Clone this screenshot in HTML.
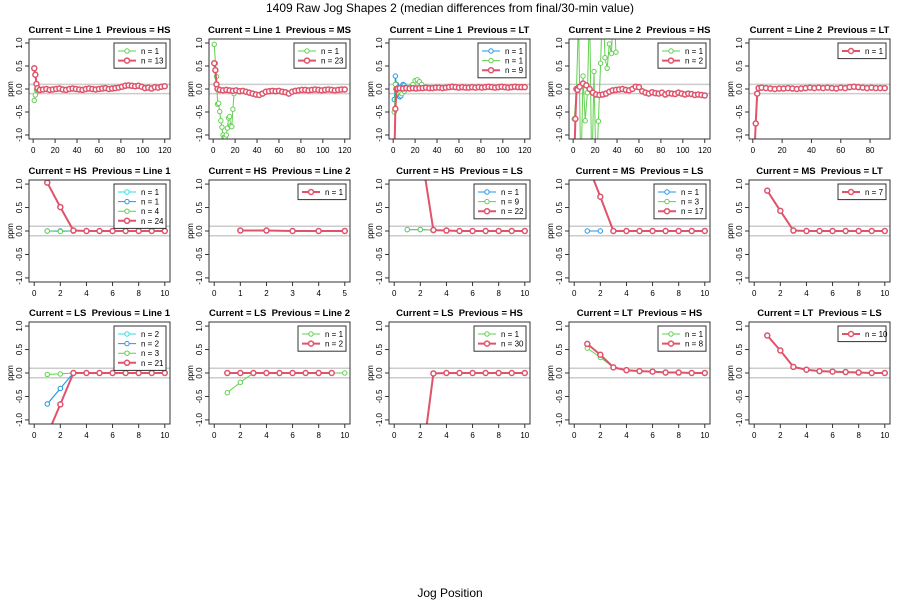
<!DOCTYPE html>
<html><head><meta charset="utf-8"><style>
body{margin:0;background:#fff}
svg{display:block;font-family:"Liberation Sans",Arial,sans-serif}
svg text{white-space:pre}
</style></head><body>
<svg id="chart" width="900" height="600" viewBox="0 0 900 600">
<text x="450" y="12" text-anchor="middle" font-size="12">1409 Raw Jog Shapes 2 (median differences from final/30-min value)</text>
<text x="450" y="597" text-anchor="middle" font-size="12">Jog Position</text>
</svg>
<script>
const RED="#DF536B",GREEN="#61D04F",BLUE="#2297E6",CYAN="#28E2E5";
const titles=["Current = Line 1  Previous = HS","Current = Line 1  Previous = MS","Current = Line 1  Previous = LT","Current = Line 2  Previous = HS","Current = Line 2  Previous = LT",
"Current = HS  Previous = Line 1","Current = HS  Previous = Line 2","Current = HS  Previous = LS","Current = MS  Previous = LS","Current = MS  Previous = LT",
"Current = LS  Previous = Line 1","Current = LS  Previous = Line 2","Current = LS  Previous = HS","Current = LT  Previous = HS","Current = LT  Previous = LS"];
const xlims=[[-3.8,124.8],[-3.8,124.8],[-3.8,124.8],[-3.8,124.8],[-2.6,93.6],
[-0.4,10.4],[-0.2,5.2],[-0.4,10.4],[-0.4,10.4],[-0.4,10.4],
[-0.4,10.4],[-0.4,10.4],[-0.4,10.4],[-0.4,10.4],[-0.4,10.4]];
const xticksLong=[0,20,40,60,80,100,120];
const xticks80=[0,20,40,60,80];
const xticks10=[0,2,4,6,8,10];
const xticks5=[0,1,2,3,4,5];
const yticks=[-1,-0.5,0,0.5,1];
const ytickLabels=["-1.0","-0.5","0.0","0.5","1.0"];
const xLong=[1,2,3,4,6,9,12,15,18,21,24,27,30,33,36,39,42,45,48,51,54,57,60,63,66,69,72,75,78,81,84,87,90,93,96,99,102,105,108,111,114,117,120];
const x90=[1,2,3,4,6,9,12,15,18,21,24,27,30,33,36,39,42,45,48,51,54,57,60,63,66,69,72,75,78,81,84,87,90];
const x10=[1,2,3,4,5,6,7,8,9,10];
const x3=[1,2,3];
const p1GreenX=[1,2,3,4,5,6];
const p1GreenY=[-0.25,-0.13,-0.02,-0.03,-0.04,-0.04];
const p1RedY=[0.45,0.31,0.11,0.02,-0.02,-0.01,0,-0.02,-0.01,0,0.01,-0.01,-0.02,0,0.01,0,-0.01,-0.02,0,0.01,0,-0.01,0,0.01,0.02,0,0.01,0.02,0.03,0.05,0.07,0.08,0.07,0.06,0.07,0.05,0.02,0.03,0.01,0.04,0.03,0.05,0.06];
const p2GreenX=[1,2,3,4,5,6,7,8,9,10,11,12,13,14,15,16,17,18,19];
const p2GreenY=[0.97,0.56,0.27,-0.33,-0.31,-0.49,-0.69,-0.83,-1.0,-1.05,-1.05,-1.0,-0.85,-0.63,-0.6,-0.8,-0.82,-0.44,-0.1];
const p2RedY=[0.56,0.41,0.1,0.0,-0.02,-0.03,-0.02,-0.03,-0.04,-0.03,-0.05,-0.04,-0.06,-0.08,-0.1,-0.12,-0.13,-0.1,-0.06,-0.05,-0.04,-0.05,-0.04,-0.06,-0.07,-0.1,-0.06,-0.04,-0.03,-0.02,-0.02,-0.03,-0.02,-0.01,-0.02,-0.03,-0.02,-0.01,-0.02,-0.03,-0.02,-0.01,-0.01];
const p3BlueX=[1,2,3,4,5,6,7,8,9,10,11,12];
const p3BlueY=[-0.23,0.28,0.1,-0.1,-0.15,-0.17,-0.15,-0.05,0.1,0.08,0.04,0.0];
const p3GreenX=[1,2,3,4,6,8,10,12,14,16,18,20,22,24,26];
const p3GreenY=[-0.5,0.1,0.0,-0.08,-0.05,-0.1,-0.05,0,0.02,0.05,0.1,0.18,0.2,0.16,0.1];
const p3RedY=[-1.5,-0.43,0.0,0.01,0.02,0.01,0.02,0.01,0.02,0.01,0.02,0.02,0.03,0.02,0.02,0.03,0.03,0.02,0.03,0.04,0.05,0.04,0.03,0.04,0.03,0.03,0.04,0.03,0.04,0.03,0.04,0.05,0.04,0.03,0.04,0.05,0.04,0.03,0.04,0.05,0.04,0.04,0.04];
const p4GreenX=[1,3,5,7,9,11,13,15,17,19,21,23,25,27,29,31,33,35,37,39];
const p4GreenY=[-0.65,0.0,1.6,-2.0,0.28,-0.69,-0.08,1.8,-2.0,0.38,-2.0,-0.7,0.56,2.0,0.68,0.45,0.98,0.77,2.0,0.8];
const p4RedY=[-1.5,-0.65,0.0,-0.02,0.05,0.12,0.08,0.0,-0.08,-0.12,-0.13,-0.12,-0.1,-0.06,-0.03,-0.02,-0.01,0,-0.02,-0.03,0.0,0.05,0.04,-0.05,-0.08,-0.1,-0.07,-0.09,-0.1,-0.08,-0.12,-0.09,-0.1,-0.11,-0.08,-0.1,-0.12,-0.1,-0.11,-0.13,-0.12,-0.13,-0.14];
const p5RedY=[-1.5,-0.75,-0.1,0.02,0.03,0.02,0.01,0.0,0.01,0.01,0.02,0.01,0.0,0.01,0.02,0.03,0.02,0.03,0.02,0.03,0.02,0.01,0.03,0.02,0.04,0.05,0.04,0.03,0.02,0.03,0.02,0.02,0.02];
const p6CyanY=[0,0,0], p6BlueY=[0,0,0], p6GreenY=[0,-0.01,0];
const p6RedY=[1.03,0.51,0.01,0,0,0,0,0,0,0];
const p7RedX=[1,2,3,4,5];
const p7RedY=[0.01,0.01,0.0,0.0,0.0];
const p8BlueY=[0.03,0.03,0.02], p8GreenY=[0.03,0.03,0.02];
const p8RedY=[3.6,1.8,0.02,0.01,0,0,0,0,0,0];
const p9BlueX=[1,2], p9BlueY=[0,0];
const p9RedY=[1.44,0.73,0.0,0,0,0,0,0,0,0];
const p10RedY=[0.86,0.43,0.01,0,0,0,0,0,0,0];
const p11CyanY=[-0.66,-0.33,0], p11BlueY=[-0.66,-0.33,0], p11GreenY=[-0.03,-0.02,0];
const p11RedY=[-1.32,-0.67,0,0,0,0,0,0,0,0];
const p12GreenY=[-0.42,-0.2,0,0,0,0,0,0,0,0];
const p12RedX=[1,2,3,4,5,6,7,8,9];
const p12RedY=[0,0,0,0,0,0,0,0,0];
const p13RedX=[2,3,4,5,6,7,8,9,10];
const p13RedY=[-2.16,-0.01,0,0,0,0,0,0,0];
const p14GreenY=[0.53,0.33,0.12];
const p14RedY=[0.62,0.39,0.12,0.06,0.04,0.03,0.01,0.01,0,0];
const p15RedY=[0.8,0.48,0.13,0.07,0.04,0.03,0.02,0.01,0,0];

function S(c,x,y,thick){return {c,x,y,thick};}
const panels=[
 {s:[S(GREEN,p1GreenX,p1GreenY),S(RED,xLong,p1RedY,1)],leg:[[GREEN,"n = 1",0],[RED,"n = 13",1]],xt:xticksLong},
 {s:[S(GREEN,p2GreenX,p2GreenY),S(RED,xLong,p2RedY,1)],leg:[[GREEN,"n = 1",0],[RED,"n = 23",1]],xt:xticksLong},
 {s:[S(BLUE,p3BlueX,p3BlueY),S(GREEN,p3GreenX,p3GreenY),S(RED,xLong,p3RedY,1)],leg:[[BLUE,"n = 1",0],[GREEN,"n = 1",0],[RED,"n = 9",1]],xt:xticksLong},
 {s:[S(GREEN,p4GreenX,p4GreenY),S(RED,xLong,p4RedY,1)],leg:[[GREEN,"n = 1",0],[RED,"n = 2",1]],xt:xticksLong},
 {s:[S(RED,x90,p5RedY,1)],leg:[[RED,"n = 1",1]],xt:xticks80},
 {s:[S(CYAN,x3,p6CyanY),S(BLUE,x3,p6BlueY),S(GREEN,x3,p6GreenY),S(RED,x10,p6RedY,1)],leg:[[CYAN,"n = 1",0],[BLUE,"n = 1",0],[GREEN,"n = 4",0],[RED,"n = 24",1]],xt:xticks10},
 {s:[S(RED,p7RedX,p7RedY,1)],leg:[[RED,"n = 1",1]],xt:xticks5},
 {s:[S(BLUE,x3,p8BlueY),S(GREEN,x3,p8GreenY),S(RED,x10,p8RedY,1)],leg:[[BLUE,"n = 1",0],[GREEN,"n = 9",0],[RED,"n = 22",1]],xt:xticks10},
 {s:[S(BLUE,p9BlueX,p9BlueY),S(RED,x10,p9RedY,1)],leg:[[BLUE,"n = 1",0],[GREEN,"n = 3",0],[RED,"n = 17",1]],xt:xticks10},
 {s:[S(RED,x10,p10RedY,1)],leg:[[RED,"n = 7",1]],xt:xticks10},
 {s:[S(CYAN,x3,p11CyanY),S(BLUE,x3,p11BlueY),S(GREEN,x3,p11GreenY),S(RED,x10,p11RedY,1)],leg:[[CYAN,"n = 2",0],[BLUE,"n = 2",0],[GREEN,"n = 3",0],[RED,"n = 21",1]],xt:xticks10},
 {s:[S(GREEN,x10,p12GreenY),S(RED,p12RedX,p12RedY,1)],leg:[[GREEN,"n = 1",0],[RED,"n = 2",1]],xt:xticks10},
 {s:[S(RED,p13RedX,p13RedY,1)],leg:[[GREEN,"n = 1",0],[RED,"n = 30",1]],xt:xticks10},
 {s:[S(GREEN,x3,p14GreenY),S(RED,x10,p14RedY,1)],leg:[[GREEN,"n = 1",0],[RED,"n = 8",1]],xt:xticks10},
 {s:[S(RED,x10,p15RedY,1)],leg:[[RED,"n = 10",1]],xt:xticks10},
];
const NS="http://www.w3.org/2000/svg";
const svg=document.getElementById("chart");
function el(t,a,p){const e=document.createElementNS(NS,t);for(const k in a)e.setAttribute(k,a[k]);(p||svg).appendChild(e);return e;}
const rowTop=[39,180,322],rowH=[100,102,102],YL=1.087;
panels.forEach((P,i)=>{
 const r=Math.floor(i/5),c=i%5;
 const L=29+180*c,W=141,T=rowTop[r],H=rowH[r];
 const g=el("g",{});
 
 
 const xl=xlims[i];
 const X=v=>L+(v-xl[0])/(xl[1]-xl[0])*W;
 const Y=v=>T+H/2-v/YL*(H/2);
 const t=el("text",{x:L+W/2,y:T-6,"text-anchor":"middle","font-size":"9.5","font-weight":"bold"},g);t.textContent=titles[i];
 
 
 const cid="clip"+i;
 const cp=el("clipPath",{id:cid},g);el("rect",{x:L,y:T,width:W,height:H},cp);
 [0.1,-0.1].forEach(v=>{const ln=el("line",{x1:L,x2:L+W,y1:Y(v),y2:Y(v),stroke:"#cccccc","stroke-width":1.5},g);
  
  });
 const pg=el("g",{"clip-path":"url(#"+cid+")"},g);
 P.s.forEach(s=>{
  const n=Math.min(s.x.length,s.y.length);
  const pts=[];for(let k=0;k<n;k++)pts.push(X(s.x[k]).toFixed(1)+","+Y(s.y[k]).toFixed(1));
  const pl=el("polyline",{points:pts.join(" "),fill:"none",stroke:s.c,"stroke-width":s.thick?2:1},pg);
  
  
  for(let k=0;k<n;k++){
   const cc=el("circle",{cx:X(s.x[k]),cy:Y(s.y[k]),r:s.thick?2.5:2.2,fill:"#fff",stroke:s.c,"stroke-width":s.thick?1.5:1},pg);
   
   
  }
 });
 const bx=el("rect",{x:L,y:T,width:W,height:H,fill:"none",stroke:"#333","stroke-width":1},g);
 
 
 yticks.forEach((v,k)=>{
  el("line",{x1:L-4,x2:L,y1:Y(v),y2:Y(v),stroke:"#333"},g);
  const tx=el("text",{x:0,y:0,"text-anchor":"middle","font-size":"8",transform:`translate(${L-7},${Y(v)}) rotate(-90)`},g);tx.textContent=ytickLabels[k];
  
  
 });
 const yl=el("text",{x:0,y:0,"text-anchor":"middle","font-size":"8",transform:`translate(${L-16},${T+H/2}) rotate(-90)`},g);yl.textContent="ppm";
 
 
 P.xt.forEach(v=>{
  el("line",{x1:X(v),x2:X(v),y1:T+H,y2:T+H+4,stroke:"#333"},g);
  const tx=el("text",{x:X(v),y:T+H+14,"text-anchor":"middle","font-size":"8"},g);tx.textContent=v;
  
  
 });
 const nl=P.leg.length,lw=nl>1&&P.leg.some(e=>e[1].length>5)?52:48;
 const lx=L+W-lw-4,ly=T+4,lh=nl*9.6+6;
 const lg=el("g",{},g);
 
 
 el("rect",{x:lx,y:ly,width:lw,height:lh,fill:"#fff",stroke:"#333"},lg);
 P.leg.forEach((e,k)=>{
  const yy=ly+8+k*9.6;
  el("line",{x1:lx+4,x2:lx+22,y1:yy,y2:yy,stroke:e[0],"stroke-width":e[2]?2:1},lg);
  el("circle",{cx:lx+13,cy:yy,r:e[2]?2.5:2.2,fill:"#fff",stroke:e[0],"stroke-width":e[2]?1.5:1},lg);
  const tx=el("text",{x:lx+27,y:yy+3,"font-size":"8"},lg);tx.textContent=e[1];
  
  
 });
});
</script>
</body></html>
